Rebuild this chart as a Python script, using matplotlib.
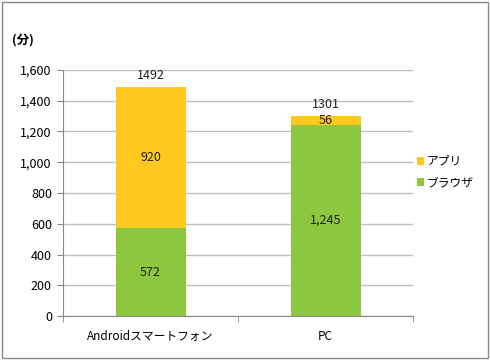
import matplotlib.pyplot as plt
from matplotlib.patches import Rectangle

plt.rcParams['font.family'] = ['Noto Sans CJK JP', 'DejaVu Sans']

categories = ["Androidスマートフォン", "PC"]
browser = [572, 1245]
app = [920, 56]
totals = [1492, 1301]
browser_labels = ["572", "1,245"]
app_labels = ["920", "56"]
yticks = [0, 200, 400, 600, 800, 1000, 1200, 1400, 1600]
ytick_labels = ["0", "200", "400", "600", "800", "1,000", "1,200", "1,400", "1,600"]

green = "#8dc63f"
yellow = "#ffc91f"

fig = plt.figure(figsize=(4.9, 3.6), dpi=100)
ax = fig.add_axes([0.1286, 0.1222, 0.7143, 0.6834])
x = range(len(categories))

b1 = ax.bar(x, browser, width=0.4, color=green, label="ブラウザ", zorder=2)
b2 = ax.bar(x, app, width=0.4, bottom=browser, color=yellow, label="アプリ", zorder=2)

for i in x:
    ax.text(i, browser[i] / 2, browser_labels[i], ha="center", va="center", fontsize=9, color="#222222")
    ax.text(i, browser[i] + app[i] / 2, app_labels[i], ha="center", va="center", fontsize=9, color="#222222")
    ax.text(i, totals[i] + 30, str(totals[i]), ha="center", va="bottom", fontsize=9, color="#222222")

ax.set_xlim(-0.5, 1.5)
ax.set_ylim(0, 1600)
ax.set_yticks(yticks)
ax.set_yticklabels(ytick_labels, fontsize=9)
ax.set_xticks(list(x))
ax.set_xticklabels(categories, fontsize=8.5)
ax.tick_params(axis="x", length=0, pad=10)
ax.set_xticks([-0.5, 0.5, 1.5], minor=True)
ax.tick_params(axis="x", which="minor", length=4, color="#888888")
ax.tick_params(axis="y", length=4, color="#888888", pad=4)
ax.grid(axis="y", color="#c0c0c0", linewidth=1, zorder=0)
for s in ["top", "right"]:
    ax.spines[s].set_visible(False)
ax.spines["left"].set_color("#888888")
ax.spines["bottom"].set_color("#888888")

handles = [b2, b1]
ax.legend(handles, ["アプリ", "ブラウザ"], loc="center left", bbox_to_anchor=(0.98, 0.585),
          frameon=False, fontsize=8.5, handlelength=0.6, handleheight=0.6, handletextpad=0.2,
          labelspacing=0.7)

fig.text(12 / 490, 1 - 40 / 360, "(分)", fontsize=9, fontweight="bold", va="center", ha="left")
fig.patches.append(Rectangle((0.004, 0.006), 0.991, 0.988, transform=fig.transFigure,
                             fill=False, edgecolor="#888888", linewidth=1))

fig.savefig("out.png", dpi=100)
